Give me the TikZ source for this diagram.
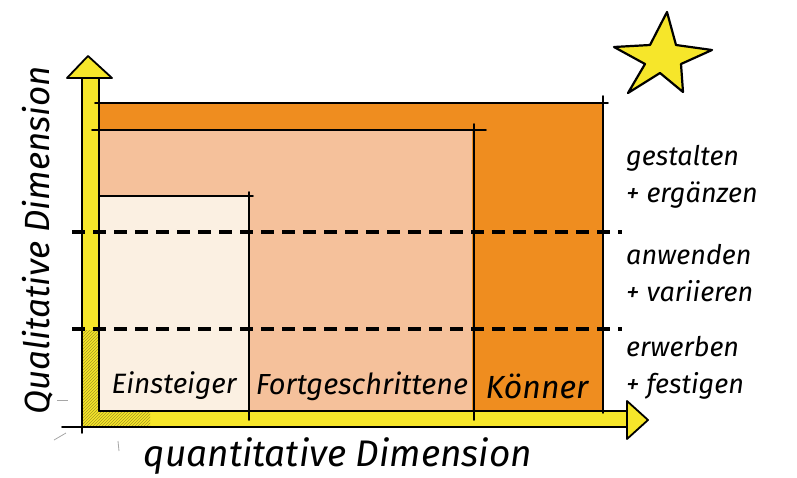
\documentclass[tikz,border=0pt]{standalone}
\usepackage{fontspec}
\setmainfont{Fira Sans}
\usetikzlibrary{patterns}
\definecolor{axisyellow}{HTML}{F6E62A}
\definecolor{hatchcol}{HTML}{A89A20}
\definecolor{darkorange}{HTML}{EF8D1F}
\definecolor{midorange}{HTML}{F5C19B}
\definecolor{cream}{HTML}{FBF0E2}
\tikzset{
  ink/.style={draw=black, line width=1.8pt, line cap=round},
  dashline/.style={draw=black, line width=3.6pt, dash pattern=on 13pt off 8pt},
  label/.style={font=\fontsize{28}{30}\selectfont\itshape, inner sep=0pt},
  sidelabel/.style={font=\fontsize{27}{37}\selectfont\itshape, inner sep=0pt, align=left, anchor=west},
  axislabel/.style={font=\fontsize{37}{40}\selectfont\itshape, inner sep=0pt},
  sketch/.style={draw=gray!70, line width=0.8pt},
}
\begin{document}
\begin{tikzpicture}[x=1pt,y=-1pt]
\useasboundingbox (0,0) rectangle (797,477);
% level rectangles
\fill[darkorange] (99,103) rectangle (603,411);
\fill[midorange] (99,130) rectangle (472,411);
\fill[cream] (99,196) rectangle (248,411);
% yellow axes
\fill[axisyellow] (82,78) rectangle (99,427);
\fill[axisyellow] (82,411) rectangle (627,427);
\fill[pattern=north east lines, pattern color=hatchcol] (82,330) rectangle (99,427);
\fill[pattern=north east lines, pattern color=hatchcol] (99,411) rectangle (150,427);
\draw[ink, fill=axisyellow, line join=round] (67,78) -- (88,56) -- (112,78) -- cycle;
\draw[ink, fill=axisyellow, line join=round] (627,401) -- (648,420) -- (627,439) -- cycle;
% axis outlines
\coordinate (yl1) at (82,78); \coordinate (yl2) at (82,433);
\coordinate (yr1) at (99,78); \coordinate (yr2) at (99,411);
\coordinate (xb1) at (62,427); \coordinate (xb2) at (627,427);
\coordinate (xt1) at (99,411); \coordinate (xt2) at (627,411);
\draw[ink] (yl1) -- (yl2);
\draw[ink] (yr1) -- (yr2);
\draw[ink] (xb1) -- (xb2);
\draw[ink] (xt1) -- (xt2);
% rectangle outlines
\coordinate (k1) at (95,103); \coordinate (k2) at (608,103);
\coordinate (k3) at (603,96); \coordinate (k4) at (603,413);
\coordinate (f1) at (92,130); \coordinate (f2) at (486,130);
\coordinate (f3) at (474,124); \coordinate (f4) at (474,420);
\coordinate (e1) at (99,196); \coordinate (e2) at (253,196);
\coordinate (e3) at (249,192); \coordinate (e4) at (249,420);
\draw[ink] (k1) -- (k2);
\draw[ink] (k3) -- (k4);
\draw[ink] (f1) -- (f2);
\draw[ink] (f3) -- (f4);
\draw[ink] (e1) -- (e2);
\draw[ink] (e3) -- (e4);
% dashed level lines
\coordinate (d1a) at (72,232); \coordinate (d1b) at (622,232);
\coordinate (d2a) at (72,329); \coordinate (d2b) at (622,329);
\draw[dashline] (d1a) -- (d1b);
\draw[dashline] (d2a) -- (d2b);
% small sketch ticks
\coordinate (t1) at (57,400); \coordinate (t2) at (68,400);
\coordinate (t3) at (54,440); \coordinate (t4) at (66,433);
\coordinate (t5) at (118,441); \coordinate (t6) at (119,451);
\draw[sketch] (t1) -- (t2);
\draw[sketch] (t3) -- (t4);
\draw[sketch] (t5) -- (t6);
% star
\draw[black, line width=2.2pt, fill=axisyellow, line join=round]
  (667,12) -- (676,45) -- (712,50) -- (681,64) -- (683,92) -- (660,73)
  -- (628,93) -- (645,64) -- (614,47) -- (650,45) -- cycle;
% labels
\node[label] (ein) at (174,386) {Einsteiger};
\node[label, font=\fontsize{29}{30}\selectfont\itshape] (fort) at (362,386) {Fortgeschrittene};
\node[label, font=\fontsize{32}{34}\selectfont\itshape] (koen) at (537,386) {Könner};
\node[sidelabel] (gest) at (626,177) {gestalten\\+ ergänzen};
\node[sidelabel] (anw) at (626,273) {anwenden\\+ variieren};
\node[sidelabel] (erw) at (626,368) {erwerben\\+ festigen};
\node[axislabel] (qx) at (338,456) {quantitative Dimension};
\node[axislabel, font=\fontsize{35}{38}\selectfont\itshape, rotate=90] (qy) at (38,240) {Qualitative Dimension};
\end{tikzpicture}
\end{document}
